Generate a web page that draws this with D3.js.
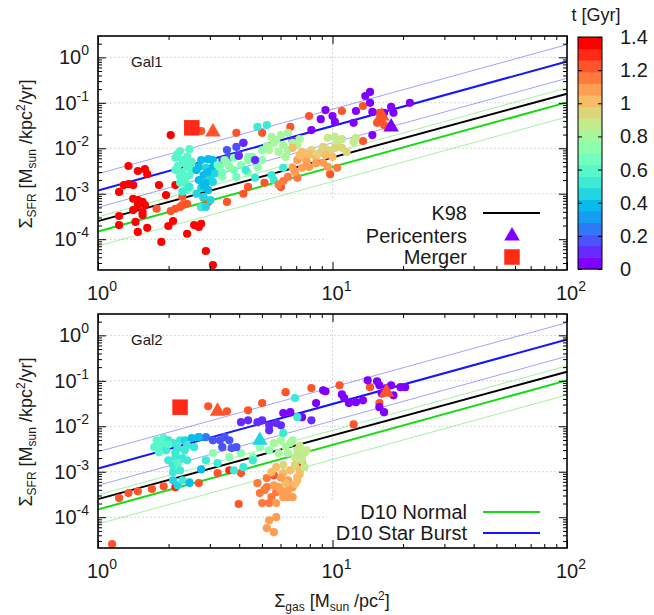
<!DOCTYPE html>
<html>
<head>
<meta charset="utf-8">
<script src="https://cdn.jsdelivr.net/npm/d3@7"></script>
<style>
  body { margin: 0; background: #fff; }
  svg text { font-family: "Liberation Sans", Arial, sans-serif; fill: #1a1a1a; }
</style>
</head>
<body>
<svg id="chart" width="654" height="615"></svg>
<script>
// Points: [log10 Sigma_gas, log10 Sigma_SFR, t (Gyr)]
const gal1Points = [
  [0.31,-1.71,1.38],[0.13,-2.39,1.38],[0.17,-2.50,1.38],[0.20,-2.46,1.38],[0.21,-2.57,1.38],
  [0.11,-2.81,1.38],[0.13,-2.79,1.38],[0.15,-2.81,1.38],[0.09,-2.96,1.38],[0.33,-2.81,1.38],
  [0.29,-3.03,1.38],[0.15,-3.11,1.38],[0.17,-3.14,1.38],[0.19,-3.18,1.38],[0.20,-3.25,1.38],
  [0.17,-3.25,1.38],[0.15,-3.36,1.38],[0.19,-3.40,1.38],[0.09,-3.49,1.38],[0.19,-3.47,1.38],
  [0.16,-3.62,1.38],[0.09,-3.69,1.38],[0.21,-3.75,1.38],[0.17,-3.84,1.38],[0.30,-3.71,1.38],
  [0.32,-3.60,1.38],[0.41,-3.69,1.38],[0.43,-3.73,1.38],[0.44,-3.66,1.38],[0.38,-3.88,1.38],
  [0.27,-4.06,1.38],[0.46,-4.26,1.38],[0.49,-4.57,1.38],[0.26,-2.81,1.38],
  [0.25,-3.33,1.22],[0.31,-3.38,1.22],[0.33,-3.33,1.22],[0.35,-3.29,1.22],[0.36,-3.25,1.22],
  [0.38,-3.22,1.22],[0.36,-3.07,1.22],[0.45,-3.09,1.22],[0.44,-3.29,1.22],[0.47,-3.18,1.22],
  [0.55,-3.18,1.22],[0.44,-1.62,1.25],[0.90,-1.29,1.22],[0.82,-1.53,1.25],[0.70,-1.66,1.25],
  [0.59,-1.66,1.25],[0.78,-2.85,1.22],[0.64,-2.85,1.22],[0.62,-3.00,1.22],[0.71,-2.76,1.22],
  [1.04,-1.18,1.25],[1.13,-1.07,1.25],[1.20,-1.22,1.22],[1.21,-1.36,1.22],[1.19,-1.44,1.22],
  [1.22,-1.49,1.22],[1.13,-1.84,1.25],[0.99,-2.57,1.25],[1.02,-2.43,1.12],
  [0.35,-2.06,0.6],[0.39,-2.02,0.6],[0.33,-2.21,0.6],[0.36,-2.26,0.6],[0.38,-2.19,0.6],
  [0.34,-2.39,0.6],[0.38,-2.41,0.6],[0.40,-2.48,0.6],[0.33,-2.48,0.6],[0.36,-2.54,0.6],
  [0.39,-2.59,0.6],[0.37,-2.70,0.6],[0.38,-2.81,0.6],[0.38,-2.92,0.6],[0.35,-2.76,0.6],
  [0.34,-2.12,0.6],[0.37,-2.33,0.6],[0.40,-2.30,0.6],[0.35,-2.62,0.6],[0.39,-2.85,0.55],
  [0.36,-2.95,0.55],
  [0.44,-2.26,0.4],[0.47,-2.24,0.35],[0.49,-2.26,0.4],[0.43,-2.41,0.4],[0.46,-2.43,0.45],
  [0.49,-2.41,0.4],[0.45,-2.59,0.4],[0.48,-2.63,0.45],[0.43,-2.70,0.4],[0.46,-2.76,0.4],
  [0.49,-2.74,0.45],[0.44,-2.87,0.45],[0.47,-2.92,0.4],[0.45,-3.07,0.45],[0.48,-3.14,0.45],
  [0.44,-3.29,0.5],[0.46,-3.29,0.45],[0.42,-2.48,0.4],[0.47,-2.52,0.4],[0.45,-2.82,0.4],
  [0.50,-2.55,0.45],[0.42,-3.00,0.45],
  [0.55,-2.04,0.2],[0.59,-1.97,0.15],[0.62,-1.88,0.15],[0.53,-2.26,0.2],[0.56,-2.21,0.2],
  [0.60,-2.15,0.2],
  [0.52,-2.41,0.7],[0.55,-2.32,0.7],[0.58,-2.48,0.65],[0.61,-2.37,0.7],[0.64,-2.26,0.7],
  [0.66,-2.19,0.72],[0.68,-2.41,0.7],[0.59,-2.63,0.65],[0.53,-2.63,0.7],[0.64,-2.54,0.7],
  [0.70,-2.04,0.75],[0.70,-2.26,0.72],[0.54,-2.26,0.7],[0.58,-2.21,0.7],[0.51,-2.37,0.65],
  [0.56,-2.41,0.7],[0.64,-2.19,0.7],[0.53,-2.54,0.65],
  [0.67,-2.65,0.5],[0.74,-2.59,0.5],[0.75,-2.70,0.5],[0.68,-1.53,0.5],[0.72,-1.49,0.5],
  [0.63,-2.48,0.5],[0.79,-2.43,0.5],
  [0.95,-1.36,0.05],[0.91,-1.60,0.05],[0.83,-1.84,0.08],[0.62,-1.88,0.12],[0.67,-2.26,0.12],
  [0.60,-2.17,0.12],
  [0.74,-1.75,0.8],[0.78,-1.71,0.8],[0.81,-1.66,0.8],[0.75,-1.88,0.8],[0.79,-1.93,0.8],
  [0.83,-1.88,0.8],[0.73,-2.04,0.8],[0.77,-2.08,0.8],[0.81,-2.04,0.8],[0.80,-2.19,0.8],
  [0.76,-1.82,0.8],[0.85,-1.92,0.82],[0.72,-1.95,0.78],[0.86,-1.80,0.82],
  [0.83,-1.99,1.0],[0.87,-2.08,1.0],[0.91,-2.04,0.95],[0.95,-2.08,0.95],[0.85,-2.26,1.05],
  [0.88,-2.21,1.02],[0.93,-2.21,1.0],[0.83,-2.43,1.1],[0.87,-2.43,1.1],[0.90,-2.41,1.05],
  [0.81,-2.63,1.12],[0.85,-2.65,1.12],[0.86,-2.15,1.0],[0.90,-2.13,0.98],[0.89,-2.30,1.05],
  [0.93,-2.33,1.05],[0.84,-2.52,1.1],[0.79,-2.72,1.15],[0.77,-2.80,1.18],[0.94,-2.12,0.95],
  [0.99,-2.12,0.95],
  [1.16,-0.76,0.03],[1.14,-0.85,0.03],[1.16,-1.00,0.03],[0.97,-1.16,0.05],[1.00,-1.29,0.05],
  [1.01,-1.42,0.05],[1.09,-1.44,0.05],[1.10,-1.18,0.05],[1.17,-1.20,0.05],[1.22,-1.22,0.03],
  [1.25,-1.09,0.03],[1.26,-1.22,0.03],[1.33,-1.00,0.03],[1.17,-1.71,0.05],
  [0.98,-1.77,0.85],[1.01,-1.75,0.85],[1.04,-1.80,0.85],[1.02,-1.91,0.85],[1.09,-1.86,0.88],
  [1.10,-1.77,0.85],
  [0.96,-1.97,0.95],[0.98,-2.04,0.95],[1.01,-1.99,0.95],[1.04,-1.99,0.92],[0.97,-2.15,0.98],
  [1.00,-2.19,0.98],[1.06,-2.08,0.92],[0.96,-2.32,1.05],[0.98,-2.41,1.05]
];

const gal2Points = [
  [0.47,-1.56,1.25],[0.55,-1.67,1.25],[0.80,-1.25,1.25],[0.91,-1.16,1.25],[0.70,-1.49,1.25],
  [0.64,-1.65,1.25],[0.87,-2.81,1.3],[0.61,-3.03,1.25],[0.51,-3.03,1.25],[0.75,-3.08,1.25],
  [0.60,-3.71,1.22],[0.06,-4.59,1.22],[0.09,-3.58,1.22],[0.13,-3.47,1.22],[0.17,-3.43,1.22],
  [0.23,-3.38,1.22],[0.28,-3.32,1.22],[0.33,-3.34,1.3],[0.43,-3.25,1.22],[0.56,-2.97,1.3],
  [1.03,-1.10,1.25],[1.16,-1.14,1.25],[1.20,-1.49,1.25],[1.09,-1.96,1.25],
  [0.68,-3.25,1.18],[0.72,-3.34,1.18],[0.69,-3.47,1.18],[0.74,-3.56,1.18],[0.70,-3.69,1.18],
  [0.73,-3.69,1.15],[0.76,-3.45,1.15],[0.72,-3.14,1.18],[0.71,-3.40,1.15],[0.75,-3.30,1.1],
  [0.76,-4.00,1.08],[0.73,-4.07,1.08],[0.72,-4.24,1.08],[0.75,-4.33,1.08],
  [0.76,-2.90,1.0],[0.79,-3.03,1.02],[0.82,-2.97,1.0],[0.85,-3.12,1.02],[0.81,-3.19,1.05],
  [0.83,-3.34,1.05],[0.78,-3.41,1.05],[0.81,-3.56,1.05],[0.76,-3.69,1.08],[0.74,-3.01,1.02],
  [0.85,-3.19,1.0],[0.77,-3.34,1.05],[0.81,-3.41,1.05],[0.79,-3.56,1.05],[0.83,-3.56,1.05],
  [0.86,-2.97,0.98],[0.80,-3.25,1.02],[0.84,-3.27,1.02],[0.78,-3.13,1.05],[0.86,-3.05,1.0],
  [0.80,-3.48,1.05],[0.79,-2.85,0.95],[0.84,-2.85,0.95],
  [0.78,-2.31,0.82],[0.82,-2.37,0.82],[0.85,-2.53,0.85],[0.88,-2.59,0.85],[0.87,-2.75,0.88],
  [0.88,-2.90,0.9],[0.84,-2.68,0.85],[0.81,-2.59,0.82],[0.77,-2.59,0.82],[0.75,-2.37,0.8],
  [0.83,-2.31,0.8],[0.89,-2.53,0.85],[0.86,-2.43,0.85],[0.80,-2.45,0.82],[0.87,-2.65,0.88],
  [0.49,-2.59,0.7],[0.56,-2.68,0.7],[0.61,-2.59,0.72],[0.66,-2.68,0.7],[0.69,-2.46,0.72],
  [0.73,-2.53,0.72],
  [0.46,-2.75,0.55],[0.51,-2.81,0.55],[0.58,-2.97,0.5],[0.62,-2.90,0.55],[0.66,-2.75,0.55],
  [0.43,-2.24,0.25],[0.46,-2.24,0.25],[0.49,-2.31,0.2],[0.52,-2.31,0.2],[0.54,-2.24,0.2],
  [0.56,-2.31,0.2],[0.59,-2.46,0.2],[0.53,-2.46,0.15],[0.57,-2.48,0.2],
  [0.61,-1.91,0.1],[0.64,-1.87,0.1],[0.68,-1.91,0.1],[0.70,-1.87,0.1],[0.73,-1.98,0.1],
  [0.76,-1.93,0.1],[0.78,-1.98,0.08],[0.79,-1.71,0.05],[0.82,-1.69,0.05],[0.87,-1.80,0.05],
  [0.91,-1.87,0.08],[0.73,-2.09,0.1],[0.93,-1.49,0.05],[0.96,-1.21,0.05],
  [0.85,-1.80,0.5],[0.79,-2.15,0.5],[0.84,-1.38,0.5],
  [0.97,-1.23,0.03],[1.04,-1.30,0.03],[1.05,-1.38,0.03],[1.07,-1.49,0.03],[1.10,-1.47,0.03],
  [1.13,-1.43,0.03],[1.15,-0.99,0.03],[1.19,-1.01,0.03],[1.20,-1.10,0.03],[1.23,-1.16,0.03],
  [1.25,-1.10,0.03],[1.29,-1.14,0.03],[1.31,-1.14,0.03],[1.21,-1.28,0.03],[1.26,-1.32,0.03],
  [1.20,-1.58,0.03],[1.22,-1.69,0.03],
  [0.25,-2.31,0.6],[0.28,-2.26,0.6],[0.30,-2.31,0.55],[0.24,-2.46,0.6],[0.27,-2.42,0.6],
  [0.29,-2.53,0.55],[0.26,-2.57,0.6],[0.32,-2.37,0.55],[0.35,-2.31,0.5],[0.37,-2.31,0.45],
  [0.40,-2.26,0.4],[0.43,-2.24,0.35],[0.34,-2.48,0.55],[0.37,-2.53,0.5],[0.41,-2.46,0.55],
  [0.33,-2.68,0.5],[0.36,-2.70,0.55],[0.32,-2.86,0.5],[0.34,-2.81,0.6],[0.38,-2.75,0.5],
  [0.32,-3.01,0.5],[0.35,-2.97,0.55],[0.32,-3.19,0.45],[0.34,-3.30,0.45],[0.36,-3.19,0.5],
  [0.39,-3.23,0.5],[0.44,-2.95,0.4],[0.39,-3.25,0.4],[0.30,-2.40,0.6],[0.26,-2.36,0.6],
  [0.33,-2.58,0.55],[0.30,-2.75,0.5],[0.38,-2.42,0.5]
];

// pericenter passages (triangles) and merger (square)
const gal1Pericenters = [[0.49,-1.64,1.25],[1.21,-1.29,1.25],[1.25,-1.53,0.0]];
const gal2Pericenters = [[0.51,-1.67,1.25],[0.69,-2.31,0.45],[1.23,-1.25,1.25]];
const gal1Merger = [[0.40,-1.55,1.3]];
const gal2Merger = [[0.35,-1.58,1.3]];

// relations
const gasRange = [1, 100];
const k98 = { coef: 2.5e-4, index: 1.4 };
const d10Slope = 1.42;
const d10NormalZero = -3.83, d10NormalScatter = 0.32;
const d10BurstZero = -2.93, d10BurstScatter = 0.37;

// ticks
const xMajor = [1, 10, 100];
const yMajorExp = [0, -1, -2, -3, -4];
const cbTicks = [0, 0.2, 0.4, 0.6, 0.8, 1, 1.2, 1.4];
const nColors = 20;

const svg = d3.select('#chart');
const plotLeft = 98, plotRight = 567, plotH = 234;

const x = d3.scaleLog().domain([1, 100]).range([plotLeft, plotRight]);

// gnuplot rgbformulae 33,13,10 with a limited number of colours
function rainbow(t) {
    let v = Math.max(0, Math.min(1, t / 1.4));
    v = Math.min(nColors - 1, Math.floor(v * nColors)) / (nColors - 1);
    const c = u => Math.round(255 * Math.max(0, Math.min(1, u)));
    const r = Math.abs(2 * v - 0.5), g = Math.sin(Math.PI * v), b = Math.cos(Math.PI * v / 2);
    return `rgb(${c(r)},${c(g)},${c(b)})`;
}

function tenLabel(sel, exp, supSize) {
    sel.append('tspan').text('10');
    sel.append('tspan').attr('dy', -9).style('font-size', supSize + 'px').text(exp);
}

function drawPanel(top, points, peri, merger, name, legendItems) {
    const y = d3.scaleLog().domain([2.1e-5, 2.95]).range([top + plotH, top]);
    const g = svg.append('g');

    // grid
    g.selectAll('.gy').data(yMajorExp).enter().append('line')
        .attr('x1', plotLeft).attr('x2', plotRight)
        .attr('y1', d => y(Math.pow(10, d))).attr('y2', d => y(Math.pow(10, d)))
        .attr('stroke', '#c4c4c4').attr('stroke-width', 0.7).attr('stroke-dasharray', '2,2');
    g.append('line')
        .attr('x1', x(10)).attr('x2', x(10)).attr('y1', top).attr('y2', top + plotH)
        .attr('stroke', '#c4c4c4').attr('stroke-width', 0.7).attr('stroke-dasharray', '2,2');

    // opaque key area
    g.append('rect')
        .attr('x', 327).attr('y', legendItems.boxTop)
        .attr('width', plotRight - 327).attr('height', top + plotH - legendItems.boxTop)
        .attr('fill', '#fff');

    // relation lines
    const rel = [
        { zero: d10NormalZero - d10NormalScatter, color: '#22dd22', w: 0.7, op: 0.6 },
        { zero: d10NormalZero + d10NormalScatter, color: '#22dd22', w: 0.7, op: 0.6 },
        { zero: d10BurstZero - d10BurstScatter, color: '#2020ff', w: 0.7, op: 0.6 },
        { zero: d10BurstZero + d10BurstScatter, color: '#2020ff', w: 0.7, op: 0.6 },
        { zero: d10NormalZero, color: '#11dd11', w: 2, op: 1 },
        { zero: d10BurstZero, color: '#1515ff', w: 2, op: 1 }
    ];
    const line = d3.line().x(d => x(d[0])).y(d => y(d[1]));
    rel.forEach(r => {
        g.append('path')
            .datum(gasRange.map(s => [s, Math.pow(10, r.zero + d10Slope * Math.log10(s))]))
            .attr('d', line).attr('fill', 'none')
            .attr('stroke', r.color).attr('stroke-width', r.w).attr('stroke-opacity', r.op);
    });
    g.append('path')
        .datum(gasRange.map(s => [s, k98.coef * Math.pow(s, k98.index)]))
        .attr('d', line).attr('fill', 'none').attr('stroke', '#000').attr('stroke-width', 2);

    // points
    g.selectAll('.pt').data(points).enter().append('circle')
        .attr('cx', d => x(Math.pow(10, d[0])))
        .attr('cy', d => y(Math.pow(10, d[1])))
        .attr('r', 4.1)
        .attr('fill', d => rainbow(d[2]));

    g.selectAll('.tri').data(peri).enter().append('path')
        .attr('d', d3.symbol().type(d3.symbolTriangle).size(105))
        .attr('transform', d => `translate(${x(Math.pow(10, d[0]))},${y(Math.pow(10, d[1]))})`)
        .attr('fill', d => rainbow(d[2]));
    g.selectAll('.sq').data(merger).enter().append('path')
        .attr('d', d3.symbol().type(d3.symbolSquare).size(240))
        .attr('transform', d => `translate(${x(Math.pow(10, d[0]))},${y(Math.pow(10, d[1]))})`)
        .attr('fill', d => rainbow(d[2]));

    // ticks, inward on all four sides
    const xMinor = [2,3,4,5,6,7,8,9,20,30,40,50,60,70,80,90];
    const yMinor = [];
    [-5,-4,-3,-2,-1,0].forEach(e => d3.range(2, 10).forEach(m => {
        const v = m * Math.pow(10, e);
        if (v > 2.1e-5 && v < 2.95) yMinor.push(v);
    }));
    const yMajor = yMajorExp.map(e => Math.pow(10, e));
    const axes = [
        [d3.axisBottom(x).tickValues(xMajor).tickSize(-8), `translate(0,${top + plotH})`],
        [d3.axisBottom(x).tickValues(xMinor).tickSize(-4), `translate(0,${top + plotH})`],
        [d3.axisTop(x).tickValues(xMajor).tickSize(-8), `translate(0,${top})`],
        [d3.axisTop(x).tickValues(xMinor).tickSize(-4), `translate(0,${top})`],
        [d3.axisLeft(y).tickValues(yMajor).tickSize(-8), `translate(${plotLeft},0)`],
        [d3.axisLeft(y).tickValues(yMinor).tickSize(-4), `translate(${plotLeft},0)`],
        [d3.axisRight(y).tickValues(yMajor).tickSize(-8), `translate(${plotRight},0)`],
        [d3.axisRight(y).tickValues(yMinor).tickSize(-4), `translate(${plotRight},0)`]
    ];
    axes.forEach(a => {
        const ax = g.append('g').attr('transform', a[1]).call(a[0].tickFormat(''));
        ax.select('.domain').remove();
        ax.selectAll('line').attr('stroke', '#000').attr('stroke-width', 1);
    });

    g.append('rect')
        .attr('x', plotLeft).attr('y', top).attr('width', plotRight - plotLeft).attr('height', plotH)
        .attr('fill', 'none').attr('stroke', '#000').attr('stroke-width', 1.6);

    // tick labels
    yMajorExp.forEach(e => {
        const t = g.append('text').attr('x', plotLeft - 9).attr('y', y(Math.pow(10, e)) + 7)
            .attr('text-anchor', 'end').style('font-size', '20px');
        tenLabel(t, e === 0 ? '0' : '-' + Math.abs(e), 14);
    });
    xMajor.forEach((v, i) => {
        const t = g.append('text').attr('x', x(v) + 4).attr('y', top + plotH + 30)
            .attr('text-anchor', 'middle').style('font-size', '20px');
        tenLabel(t, String(i), 14);
    });

    g.append('text').attr('x', 131).attr('y', top + 31).style('font-size', '15px').text(name);

    // y axis title
    const lab = g.append('text')
        .attr('transform', `translate(32,${top + 118}) rotate(-90)`)
        .attr('text-anchor', 'middle').style('font-size', '18px');
    lab.append('tspan').text('\u03A3');
    lab.append('tspan').attr('dy', 4).style('font-size', '12px').text('SFR');
    lab.append('tspan').attr('dy', -4).text(' [M');
    lab.append('tspan').attr('dy', 4).style('font-size', '12px').text('sun');
    lab.append('tspan').attr('dy', -4).text(' /kpc');
    lab.append('tspan').attr('dy', -7).style('font-size', '12px').text('2');
    lab.append('tspan').attr('dy', 7).text('/yr]');

    // key
    legendItems.rows.forEach(item => {
        g.append('text').attr('x', 467).attr('y', item.y + 7)
            .attr('text-anchor', 'end').style('font-size', '20px').text(item.label);
        if (item.kind === 'line') {
            g.append('line').attr('x1', 483).attr('x2', 540).attr('y1', item.y).attr('y2', item.y)
                .attr('stroke', item.color).attr('stroke-width', 2);
        } else {
            g.append('path')
                .attr('d', d3.symbol().type(item.kind === 'tri' ? d3.symbolTriangle : d3.symbolSquare)
                    .size(item.kind === 'tri' ? 105 : 240))
                .attr('transform', `translate(512,${item.y})`)
                .attr('fill', item.color);
        }
    });
}

drawPanel(36, gal1Points, gal1Pericenters, gal1Merger, 'Gal1', {
    boxTop: 200,
    rows: [
        { label: 'K98', y: 213, kind: 'line', color: '#000' },
        { label: 'Pericenters', y: 236, kind: 'tri', color: rainbow(0) },
        { label: 'Merger', y: 257, kind: 'sq', color: rainbow(1.3) }
    ]
});
drawPanel(314, gal2Points, gal2Pericenters, gal2Merger, 'Gal2', {
    boxTop: 500,
    rows: [
        { label: 'D10 Normal', y: 512, kind: 'line', color: '#11dd11' },
        { label: 'D10 Star Burst', y: 533, kind: 'line', color: '#1515ff' }
    ]
});

// x axis title
const xl = svg.append('text').attr('x', 332).attr('y', 607)
    .attr('text-anchor', 'middle').style('font-size', '18px');
xl.append('tspan').text('\u03A3');
xl.append('tspan').attr('dy', 4).style('font-size', '12px').text('gas');
xl.append('tspan').attr('dy', -4).text(' [M');
xl.append('tspan').attr('dy', 4).style('font-size', '12px').text('sun');
xl.append('tspan').attr('dy', -4).text(' /pc');
xl.append('tspan').attr('dy', -7).style('font-size', '12px').text('2');
xl.append('tspan').attr('dy', 7).text(']');

// colour box
const cbLeft = 578, cbWidth = 24, cbTop = 37, cbBottom = 269;
const cbScale = d3.scaleLinear().domain([0, 1.4]).range([cbBottom, cbTop]);
const bands = d3.range(nColors);
svg.selectAll('.band').data(bands).enter().append('rect')
    .attr('x', cbLeft)
    .attr('y', i => cbScale((i + 1) * 1.4 / nColors))
    .attr('width', cbWidth)
    .attr('height', i => cbScale(i * 1.4 / nColors) - cbScale((i + 1) * 1.4 / nColors) + 0.5)
    .attr('fill', i => rainbow((i + 0.5) * 1.4 / nColors));
svg.append('rect').attr('x', cbLeft).attr('y', cbTop).attr('width', cbWidth).attr('height', cbBottom - cbTop)
    .attr('fill', 'none').attr('stroke', '#000').attr('stroke-width', 1);
const cbAxisL = svg.append('g').attr('transform', `translate(${cbLeft},0)`)
    .call(d3.axisLeft(cbScale).tickValues(cbTicks).tickSize(-4).tickFormat(''));
const cbAxisR = svg.append('g').attr('transform', `translate(${cbLeft + cbWidth},0)`)
    .call(d3.axisRight(cbScale).tickValues(cbTicks).tickSize(-4).tickFormat(''));
[cbAxisL, cbAxisR].forEach(a => { a.select('.domain').remove(); a.selectAll('line').attr('stroke', '#000'); });
svg.selectAll('.cbl').data(cbTicks).enter().append('text')
    .attr('x', 620).attr('y', d => cbScale(d) + 7)
    .style('font-size', '20px')
    .text(d => d3.format('~g')(d));
svg.append('text').attr('x', 596).attr('y', 21).attr('text-anchor', 'middle')
    .style('font-size', '18px').text('t [Gyr]');
</script>
</body>
</html>
